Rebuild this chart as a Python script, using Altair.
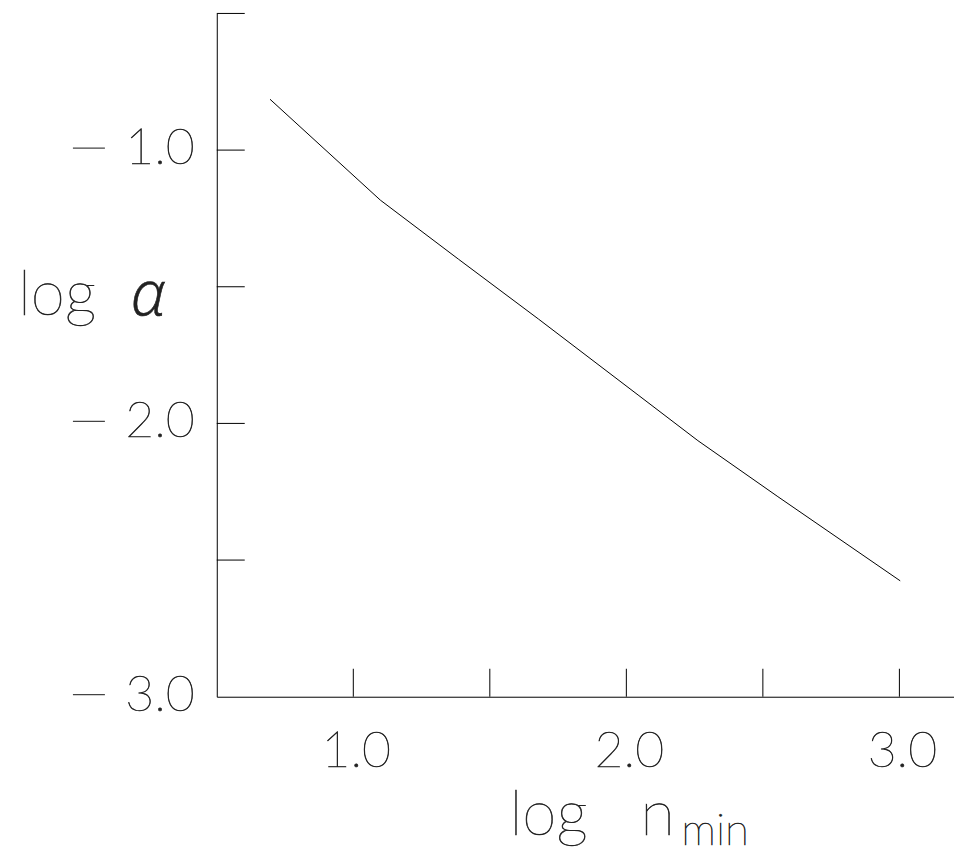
import altair as alt
import pandas as pd

# ---- data ----
log_nmin = [0.695, 1.099, 1.385, 1.678, 2.043, 2.262, 2.555, 3.003]
log_alpha = [-0.814, -1.183, -1.399, -1.618, -1.896, -2.063, -2.268, -2.576]
x_ticks = [1.0, 1.5, 2.0, 2.5, 3.0]
y_ticks = [-2.5, -2.0, -1.5, -1.0, -0.5]
x_labels = [1.0, 2.0, 3.0]
y_labels = [-3.0, -2.0, -1.0]
x_domain = [0.5, 3.2]
y_domain = [-3.0, -0.5]

W, H = 738, 684
FONT = "Lato"
TICK = 28
INK = "#222"

xscale = alt.Scale(domain=x_domain, nice=False, zero=False)
yscale = alt.Scale(domain=y_domain, nice=False, zero=False)

xaxis = alt.Axis(values=x_labels, title=None, ticks=False, grid=False, labels=False,
                 domainColor="black", domainWidth=1)
yaxis = alt.Axis(values=y_labels, title=None, ticks=False, grid=False, labels=False,
                 domainColor="black", domainWidth=1)

curve = pd.DataFrame({"x": log_nmin, "y": log_alpha})

line = alt.Chart(curve).mark_line(color="black", strokeWidth=1).encode(
    x=alt.X("x:Q", scale=xscale, axis=xaxis),
    y=alt.Y("y:Q", scale=yscale, axis=yaxis),
)

xt = alt.Chart(pd.DataFrame({"x": x_ticks})).mark_rule(color="black", strokeWidth=1).encode(
    x=alt.X("x:Q", scale=xscale, axis=xaxis),
    y=alt.value(H - TICK), y2=alt.value(H),
)
yt = alt.Chart(pd.DataFrame({"y": y_ticks})).mark_rule(color="black", strokeWidth=1).encode(
    y=alt.Y("y:Q", scale=yscale, axis=yaxis),
    x=alt.value(0), x2=alt.value(TICK),
)

# tick labels as text marks (thin font, darkened with a fine stroke)
label_style = dict(font=FONT, fontSize=50, fontWeight=100, color=INK, stroke=INK, strokeWidth=0.6)

xlab = alt.Chart(pd.DataFrame({"x": x_labels})).mark_text(
    align="center", baseline="alphabetic", dx=3, **label_style
).encode(
    x=alt.X("x:Q", scale=xscale, axis=xaxis),
    y=alt.value(H + 70),
    text=alt.Text("x:Q", format=".1f"),
)

ylab = alt.Chart(pd.DataFrame({"y": y_labels})).transform_calculate(
    a="abs(datum.y)"
).mark_text(
    align="right", baseline="alphabetic", dy=14, **label_style
).encode(
    y=alt.Y("y:Q", scale=yscale, axis=yaxis),
    x=alt.value(-22),
    text=alt.Text("a:Q", format=".1f"),
)

ydash = alt.Chart(pd.DataFrame({"y": y_labels})).mark_rule(
    color="#444", strokeWidth=1.3, yOffset=-2
).encode(
    y=alt.Y("y:Q", scale=yscale, axis=yaxis),
    x=alt.value(-144), x2=alt.value(-112),
)


def txt(s, x, y, size, font=FONT, style="normal", weight=100):
    return alt.Chart(pd.DataFrame({"t": [s]})).mark_text(
        align="left", baseline="alphabetic", font=font, fontSize=size,
        fontStyle=style, fontWeight=weight, color=INK, stroke=INK, strokeWidth=0.6
    ).encode(x=alt.value(x), y=alt.value(y), text="t:N")


titles = [
    txt("log", -199, 302, 62),
    txt("\u03b1", -86, 302, 62, font="Open Sans", style="italic", weight=300),
    txt("log", 293, 822, 62),
    txt("n", 424, 822, 64),
    txt("min", 465, 832, 44),
]

chart = alt.layer(line, xt, yt, xlab, ylab, ydash, *titles).properties(
    width=W, height=H,
    padding={"left": 209, "top": 5, "right": 0, "bottom": 160},
    autosize=alt.AutoSizeParams(type="none"),
    background="white",
).configure_view(stroke=None)

chart.save("out.html", embed_options={"renderer": "svg", "actions": False})
